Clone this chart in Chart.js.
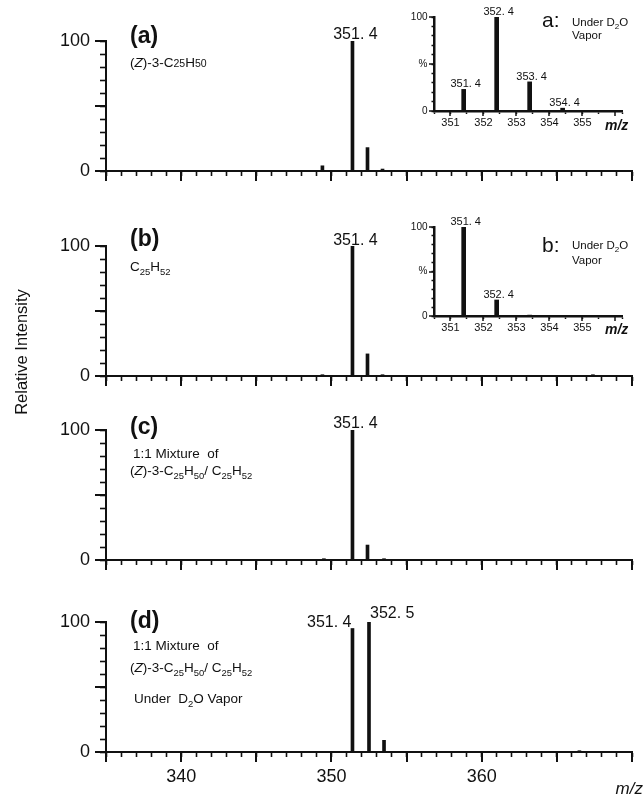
<!DOCTYPE html>
<html><head><meta charset="utf-8">
<script src="https://cdn.jsdelivr.net/npm/chart.js@4.4.1/dist/chart.umd.min.js"></script>
<style>
html,body{margin:0;padding:0;background:#fff;}
#wrap{position:relative;width:644px;height:796px;overflow:hidden;background:#fff;}
#wrap canvas{position:absolute;left:0;top:0;}
</style></head><body><div id="wrap"></div>
<script>
// ---------- data ----------
const mzPanelA = [349.4, 351.4, 352.4, 353.4];
const intPanelA = [4, 100, 18, 1.5];
const mzPanelB = [349.4, 351.4, 352.4, 353.4, 367.4];
const intPanelB = [1, 100, 17, 1, 1];
const mzPanelC = [349.5, 351.4, 352.4, 353.5];
const intPanelC = [1, 100, 11.5, 1];
const mzPanelD = [351.4, 352.5, 353.5, 366.5];
const intPanelD = [95, 100, 9, 1];
const mzInsetA = [351.4, 352.4, 353.4, 354.4];
const intInsetA = [23, 100, 31, 3];
const mzInsetB = [351.4, 352.4, 353.4];
const intInsetB = [100, 18, 1];
const peakTextA = ['351. 4'];
const peakTextB = ['351. 4'];
const peakTextC = ['351. 4'];
const peakTextD = ['351. 4', '352. 5'];
const peakTextInsetA = ['351. 4', '352. 4', '353. 4', '354. 4'];
const peakTextInsetB = ['351. 4', '352. 4'];
const xLabelMain = [340, 350, 360];
const xMajorMain = [335, 340, 345, 350, 355, 360, 365, 370];
const yLabelMain = [0, 100];
const yMajorMain = [0, 50, 100];
const insetXLabels = [351, 352, 353, 354, 355];
const insetXMajor = [351, 352, 353, 354, 355, 356];
const insetYTicks = [0, 50, 100];
const insetYText = ['0', '%', '100'];

// ---------- setup ----------
const W = 644, H = 796;
const INK = '#111';
const FONT = '"Liberation Sans", Arial, Helvetica, sans-serif';
Chart.defaults.font.family = FONT;
Chart.defaults.color = INK;
Chart.defaults.animation = false;

function mkCanvas() {
  const c = document.createElement('canvas');
  c.width = W; c.height = H; c.style.width = W + 'px'; c.style.height = H + 'px';
  document.getElementById('wrap').appendChild(c);
  return c.getContext('2d');
}
function toPoints(mz, it) { return mz.map((m, i) => ({x: m, y: it[i]})); }
function near(a, b) { return Math.abs(a - b) < 1e-6; }
function inList(v, list) { return list.some(u => near(u, v)); }
function px(chart, mz, it) { return {x: chart.scales.x.getPixelForValue(mz), y: chart.scales.y.getPixelForValue(it)}; }

function txt(ctx, s, x, y, size, align, style, weight) {
  ctx.font = `${style || 'normal'} ${weight || 'normal'} ${size}px ${FONT}`;
  ctx.textAlign = align || 'left'; ctx.textBaseline = 'alphabetic';
  ctx.fillStyle = INK; ctx.fillText(s, x, y);
}
function runs(ctx, x, y, size, parts) {
  let cx = x;
  parts.forEach(([t, st]) => {
    let fs = size, dy = 0, style = 'normal', weight = 'normal';
    if (st === 'i') style = 'italic';
    if (st === 's') fs = size * 0.78;
    if (st === 'sub') { fs = size * 0.7; dy = size * 0.3; }
    ctx.font = `${style} ${weight} ${fs}px ${FONT}`;
    ctx.textAlign = 'left'; ctx.textBaseline = 'alphabetic'; ctx.fillStyle = INK;
    ctx.fillText(t, cx, y + dy);
    cx += ctx.measureText(t).width;
  });
}

function majorTicks(xs, xl, ys, yl, w) {
  return {
    id: 'majorTicks',
    afterDraw(chart) {
      const {ctx, chartArea: a, scales} = chart;
      ctx.save(); ctx.strokeStyle = INK; ctx.lineWidth = w; ctx.lineCap = 'butt';
      xs.forEach(v => {
        const p = Math.round(scales.x.getPixelForValue(v));
        ctx.beginPath(); ctx.moveTo(p, a.bottom); ctx.lineTo(p, a.bottom + xl); ctx.stroke();
      });
      ys.forEach(v => {
        const p = Math.round(scales.y.getPixelForValue(v));
        ctx.beginPath(); ctx.moveTo(a.left - yl, p); ctx.lineTo(a.left, p); ctx.stroke();
      });
      ctx.restore();
    }
  };
}

const MAIN_R = 632;
function mainPanel(top, bottom, mz, it, showX, drawText) {
  const ctx = mkCanvas();
  return new Chart(ctx, {
    type: 'bar',
    data: {datasets: [{data: toPoints(mz, it), backgroundColor: INK, borderWidth: 0, barThickness: 3, grouped: false}]},
    options: {
      responsive: false, animation: false, devicePixelRatio: 1, events: [],
      layout: {padding: {left: 0, right: W - MAIN_R, top: top, bottom: H - bottom - 40}},
      plugins: {legend: {display: false}, tooltip: {enabled: false}},
      scales: {
        x: {type: 'linear', position: 'bottom', min: 335, max: 370, offset: false,
          grid: {offset: false, drawOnChartArea: false, drawTicks: true, tickLength: 5, tickWidth: 1.6, tickColor: INK},
          border: {display: true, width: 2, color: INK},
          ticks: {stepSize: 1, autoSkip: false, maxRotation: 0, minRotation: 0, padding: 9, color: INK, font: {size: 18},
            callback: v => (showX && inList(v, xLabelMain)) ? String(v) : ''},
          afterFit: s => { s.height = 40; }},
        y: {type: 'linear', position: 'left', min: 0, max: 100,
          grid: {drawOnChartArea: false, drawTicks: true, tickLength: 6, tickWidth: 1.6, tickColor: INK},
          border: {display: true, width: 2, color: INK},
          ticks: {stepSize: 10, autoSkip: false, padding: 10, color: INK, font: {size: 18},
            callback: v => inList(v, yLabelMain) ? String(v) : ''},
          afterFit: s => { s.width = 106; }}
      }
    },
    plugins: [majorTicks(xMajorMain, 10, yMajorMain, 11, 2), {id: 'txt', afterDraw: drawText}]
  });
}

const IN_L = 434, IN_R = 622;
function insetPanel(top, bottom, mz, it, drawText) {
  const ctx = mkCanvas();
  return new Chart(ctx, {
    type: 'bar',
    data: {datasets: [{data: toPoints(mz, it), backgroundColor: INK, borderWidth: 0, barThickness: 4, grouped: false}]},
    options: {
      responsive: false, animation: false, devicePixelRatio: 1, events: [],
      layout: {padding: {left: IN_L - 30, right: W - IN_R, top: top, bottom: H - bottom - 20}},
      plugins: {legend: {display: false}, tooltip: {enabled: false}},
      scales: {
        x: {type: 'linear', position: 'bottom', min: 350.5, max: 356.2, offset: false,
          grid: {offset: false, drawOnChartArea: false, drawTicks: true, tickLength: 3, tickWidth: 1.5, tickColor: INK},
          border: {display: true, width: 2.5, color: INK},
          ticks: {stepSize: 0.5, autoSkip: false, maxRotation: 0, minRotation: 0, padding: 2, color: INK, font: {size: 11},
            callback: v => inList(v, insetXLabels) ? String(Math.round(v)) : ''},
          afterFit: s => { s.height = 20; }},
        y: {type: 'linear', position: 'left', min: 0, max: 100,
          grid: {drawOnChartArea: false, drawTicks: true, tickLength: 2.5, tickWidth: 1.5, tickColor: INK},
          border: {display: true, width: 2.5, color: INK},
          ticks: {stepSize: 10, autoSkip: false, padding: 4, color: INK, font: {size: 10},
            callback: v => { const i = insetYTicks.findIndex(u => near(u, v)); return i >= 0 ? insetYText[i] : ''; }},
          afterFit: s => { s.width = 30; }}
      }
    },
    plugins: [majorTicks(insetXMajor, 5, insetYTicks, 5, 1.5), {id: 'txt', afterDraw: drawText}]
  });
}

// ---------- panels ----------
mainPanel(41, 171, mzPanelA, intPanelA, false, chart => {
  const c = chart.ctx;
  txt(c, '(a)', 130, 43, 23, 'left', 'normal', 'bold');
  runs(c, 130, 67, 13.5, [['(', ''], ['Z', 'i'], [')-3-C', ''], ['25', 's'], ['H', ''], ['50', 's']]);
  const p = px(chart, mzPanelA[1], intPanelA[1]);
  txt(c, peakTextA[0], p.x + 3, p.y - 2, 16, 'center');
});

mainPanel(246, 376, mzPanelB, intPanelB, false, chart => {
  const c = chart.ctx;
  txt(c, '(b)', 130, 246, 23, 'left', 'normal', 'bold');
  runs(c, 130, 271, 13.5, [['C', ''], ['25', 'sub'], ['H', ''], ['52', 'sub']]);
  const p = px(chart, mzPanelB[1], intPanelB[1]);
  txt(c, peakTextB[0], p.x + 3, p.y - 1, 16, 'center');
  c.save(); c.translate(27, 352); c.rotate(-Math.PI / 2);
  txt(c, 'Relative Intensity', 0, 0, 16.5, 'center');
  c.restore();
});

mainPanel(430, 560, mzPanelC, intPanelC, false, chart => {
  const c = chart.ctx;
  txt(c, '(c)', 130, 434, 23, 'left', 'normal', 'bold');
  txt(c, '1:1 Mixture  of', 133, 458, 13.5);
  runs(c, 130, 475, 13.5, [['(', ''], ['Z', 'i'], [')-3-C', ''], ['25', 'sub'], ['H', ''], ['50', 'sub'], ['/ C', ''], ['25', 'sub'], ['H', ''], ['52', 'sub']]);
  const p = px(chart, mzPanelC[1], intPanelC[1]);
  txt(c, peakTextC[0], p.x + 3, p.y - 2, 16, 'center');
});

mainPanel(622, 752, mzPanelD, intPanelD, true, chart => {
  const c = chart.ctx;
  txt(c, '(d)', 130, 628, 23, 'left', 'normal', 'bold');
  txt(c, '1:1 Mixture  of', 133, 650, 13.5);
  runs(c, 130, 672, 13.5, [['(', ''], ['Z', 'i'], [')-3-C', ''], ['25', 'sub'], ['H', ''], ['50', 'sub'], ['/ C', ''], ['25', 'sub'], ['H', ''], ['52', 'sub']]);
  runs(c, 134, 703, 13.5, [['Under  D', ''], ['2', 'sub'], ['O Vapor', '']]);
  const p1 = px(chart, mzPanelD[0], intPanelD[0]);
  txt(c, peakTextD[0], p1.x - 1, p1.y - 2, 16, 'right');
  const p2 = px(chart, mzPanelD[1], intPanelD[1]);
  txt(c, peakTextD[1], p2.x + 1, p2.y - 4, 16, 'left');
  txt(c, 'm/z', 643, 794, 17, 'right', 'italic');
});

insetPanel(17, 111, mzInsetA, intInsetA, chart => {
  const c = chart.ctx;
  peakTextInsetA.forEach((s, i) => {
    const p = px(chart, mzInsetA[i], intInsetA[i]);
    txt(c, s, p.x + 2, p.y - 2, 11, 'center');
  });
  txt(c, 'a:', 542, 27, 21);
  runs(c, 572, 26, 11.5, [['Under D', ''], ['2', 'sub'], ['O', '']]);
  txt(c, 'Vapor', 572, 39, 11.5);
  txt(c, 'm/z', 605, 130, 14, 'left', 'italic', 'bold');
});

insetPanel(227, 316, mzInsetB, intInsetB, chart => {
  const c = chart.ctx;
  peakTextInsetB.forEach((s, i) => {
    const p = px(chart, mzInsetB[i], intInsetB[i]);
    txt(c, s, p.x + 2, p.y - 2, 11, 'center');
  });
  txt(c, 'b:', 542, 252, 21);
  runs(c, 572, 249, 11.5, [['Under D', ''], ['2', 'sub'], ['O', '']]);
  txt(c, 'Vapor', 572, 264, 11.5);
  txt(c, 'm/z', 605, 334, 14, 'left', 'italic', 'bold');
});
</script>
</body></html>
